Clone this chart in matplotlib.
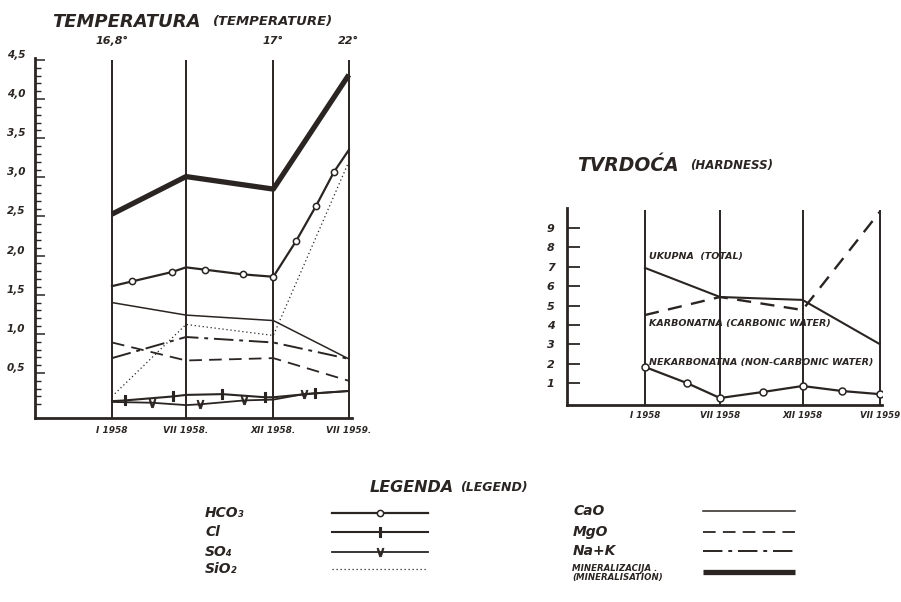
import matplotlib
matplotlib.use('Agg')
import matplotlib.pyplot as plt
import matplotlib.transforms as mtransforms

plt.rcParams['font.family'] = ['DejaVu Sans']

# ---- data: temperature / chemistry chart ----
months = ['I 1958', 'VII 1958.', 'XII 1958.', 'VII 1959.']
month_x = [0.0, 1.0, 2.18, 3.2]
temps = ['16,8°', '', '17°', '22°']
y_ticks = [0.5, 1.0, 1.5, 2.0, 2.5, 3.0, 3.5, 4.0, 4.5]
y_ticklabels = ['0,5', '1,0', '1,5', '2,0', '2,5', '3,0', '3,5', '4,0', '4,5']

mineral = [2.53, 3.01, 2.85, 4.31]
ca_o = [1.40, 1.24, 1.17, 0.68]
mg_o = [0.89, 0.66, 0.69, 0.40]
na_k = [0.69, 0.96, 0.89, 0.68]
si_o2 = [0.20, 1.12, 0.98, 3.20]

hco3_x = [0.0, 0.27, 0.81, 1.0, 1.26, 1.77, 2.18, 2.49, 2.76, 3.0, 3.2]
hco3 = [1.61, 1.67, 1.79, 1.85, 1.82, 1.76, 1.73, 2.19, 2.64, 3.07, 3.35]

cl_x = [0.0, 0.18, 0.82, 1.0, 1.49, 2.07, 2.18, 2.74, 3.2]
cl = [0.14, 0.15, 0.20, 0.22, 0.23, 0.19, 0.19, 0.24, 0.27]

so4_x = [0.0, 0.54, 1.0, 1.19, 1.79, 2.18, 2.59, 3.2]
so4 = [0.13, 0.12, 0.09, 0.10, 0.15, 0.16, 0.23, 0.27]

# ---- data: hardness chart ----
hard_months = ['I 1958', 'VII 1958', 'XII 1958', 'VII 1959']
hard_x = [0.0, 1.0, 2.1, 3.13]
hard_ticks = [1, 2, 3, 4, 5, 6, 7, 8, 9]
total = [6.94, 5.44, 5.29, 3.01]
carbonic = [4.51, 5.44, 4.77, 9.83]
noncarb_x = [0.0, 0.56, 1.0, 1.57, 2.1, 2.63, 3.13]
noncarb = [1.83, 1.0, 0.23, 0.54, 0.85, 0.59, 0.43]

ink = '#2a2522'
W, H = 901, 602

styles = {
    'HCO₃': dict(lw=1.6, marker='o', ms=4.5, mfc='white', mec=ink, mew=1.1),
    'Cl': dict(lw=1.5, marker='$\u2016$', ms=7, mec=ink, mew=0.8),
    'SO₄': dict(lw=1.3, marker='$\\vee$', ms=6, mec=ink, mew=0.6),
    'SiO₂': dict(lw=0.9, ls=(0, (1, 2.2))),
    'CaO': dict(lw=1.1),
    'MgO': dict(lw=1.3, ls=(0, (7, 4))),
    'Na+K': dict(lw=1.4, ls=(0, (10, 3, 2, 3))),
    'MIN': dict(lw=3.8, solid_capstyle='butt'),
}


def fax(x0, y0, x1, y1):
    # pixel box (top-left origin) -> figure fraction
    return [x0 / W, 1 - y1 / H, (x1 - x0) / W, (y1 - y0) / H]


def bi(**kw):
    d = dict(fontweight='bold', fontstyle='italic', color=ink)
    d.update(kw)
    return d


fig = plt.figure(figsize=(W / 100, H / 100), dpi=100)
fig.patch.set_facecolor('white')

# ================= left chart =================
ax = fig.add_axes(fax(35, 58, 352, 418))
ax.set_xlim(-1.04, 3.243)
ax.set_ylim(-0.075, 4.525)
for s in ['top', 'right']:
    ax.spines[s].set_visible(False)
for s in ['left', 'bottom']:
    ax.spines[s].set_linewidth(2.0)
    ax.spines[s].set_color(ink)
ax.set_facecolor('none')

ax.vlines(month_x, -0.075, 4.5, color=ink, lw=1.4)

ax.plot(month_x, mineral, color=ink, **styles['MIN'])
ax.plot(hco3_x, hco3, color=ink, markevery=[1, 2, 4, 5, 6, 7, 8, 9], **styles['HCO₃'])
ax.plot(month_x, ca_o, color=ink, **styles['CaO'])
ax.plot(month_x, mg_o, color=ink, **styles['MgO'])
ax.plot(month_x, na_k, color=ink, **styles['Na+K'])
ax.plot(month_x, si_o2, color=ink, **styles['SiO₂'])
ax.plot(cl_x, cl, color=ink, markevery=[1, 2, 4, 5, 7], **styles['Cl'])
ax.plot(so4_x, so4, color=ink, markevery=[1, 3, 4, 6], **styles['SO₄'])

ax.set_yticks(y_ticks)
ax.set_yticklabels(y_ticklabels)
ax.set_yticks([i / 10 for i in range(1, 46)], minor=True)
ax.tick_params(axis='y', which='major', direction='in', length=7, width=1.1,
               color=ink, pad=7, labelsize=7.5, labelcolor=ink)
ax.tick_params(axis='y', which='minor', direction='in', length=4, width=1.0, color=ink)
off = mtransforms.ScaledTranslation(0, 6 / 100, fig.dpi_scale_trans)
for lab in ax.get_yticklabels():
    lab.set_fontweight('bold')
    lab.set_fontstyle('italic')
    lab.set_transform(lab.get_transform() + off)

ax.set_xticks(month_x)
ax.set_xticklabels(months)
ax.tick_params(axis='x', length=0, pad=6, labelsize=6.5, labelcolor=ink)
for lab in ax.get_xticklabels():
    lab.set_fontweight('bold')
    lab.set_fontstyle('italic')

for xv, t in zip(month_x, temps):
    if t:
        ax.annotate(t, (xv, 1.0), xycoords=('data', 'axes fraction'),
                    xytext=(0, 9), textcoords='offset points',
                    ha='center', va='bottom', fontsize=8, **bi())

fig.text(52 / W, 1 - 22 / H, 'TEMPERATURA', fontsize=13, va='center', ha='left', **bi())
fig.text(213 / W, 1 - 22 / H, '(TEMPERATURE)', fontsize=9.5, va='center', ha='left', **bi())

# ================= right chart =================
bx = fig.add_axes(fax(567, 208, 882, 405))
bx.set_xlim(-1.04, 3.16)
bx.set_ylim(-0.13, 10.03)
for s in ['top', 'right']:
    bx.spines[s].set_visible(False)
for s in ['left', 'bottom']:
    bx.spines[s].set_linewidth(2.0)
    bx.spines[s].set_color(ink)
bx.set_facecolor('none')

bx.vlines(hard_x, -0.13, 9.95, color=ink, lw=1.4)
bx.plot(hard_x, total, color=ink, lw=1.5)
bx.plot(hard_x, carbonic, color=ink, lw=1.7, ls=(0, (6, 4)))
bx.plot(noncarb_x, noncarb, color=ink, lw=1.6, marker='o', ms=5,
        mfc='white', mec=ink, mew=1.1)

bx.set_yticks(hard_ticks)
bx.tick_params(axis='y', direction='in', length=9, width=1.3, color=ink,
               pad=9, labelsize=8, labelcolor=ink)
for lab in bx.get_yticklabels():
    lab.set_fontweight('bold')
    lab.set_fontstyle('italic')
bx.set_xticks(hard_x)
bx.set_xticklabels(hard_months)
bx.tick_params(axis='x', length=0, pad=4, labelsize=6.2, labelcolor=ink)
for lab in bx.get_xticklabels():
    lab.set_fontweight('bold')
    lab.set_fontstyle('italic')

bx.annotate('UKUPNA  (TOTAL)', (hard_x[0], total[0]), xytext=(3, 8),
            textcoords='offset points', fontsize=6.8, ha='left', va='center', **bi())
bx.annotate('KARBONATNA (CARBONIC WATER)', (hard_x[0], carbonic[0]), xytext=(3, -6),
            textcoords='offset points', fontsize=6.8, ha='left', va='center', **bi())
bx.annotate('NEKARBONATNA (NON-CARBONIC WATER)', (hard_x[0], noncarb[0]), xytext=(3, 3),
            textcoords='offset points', fontsize=6.8, ha='left', va='center', **bi())

fig.text(577 / W, 1 - 165 / H, 'TVRDOĆA', fontsize=13.5, va='center', ha='left', **bi())
fig.text(690 / W, 1 - 165 / H, '(HARDNESS)', fontsize=8.5, va='center', ha='left', **bi())

# ================= legend =================
lax = fig.add_axes([0, 0, 1, 1])
lax.set_xlim(0, W)
lax.set_ylim(H, 0)
lax.axis('off')

lax.text(370, 487, 'LEGENDA', fontsize=11.5, va='center', ha='left', **bi())
lax.text(460, 488, '(LEGEND)', fontsize=9, va='center', ha='left', **bi())

left_items = ['HCO₃', 'Cl', 'SO₄', 'SiO₂']
left_rows = [513, 532, 552, 569]
for name, yy in zip(left_items, left_rows):
    lax.text(205, yy, name, fontsize=10, va='center', ha='left', **bi())
    st = dict(styles[name])
    if 'marker' in st:
        lax.plot([332, 380, 428], [yy, yy, yy], color=ink, markevery=[1], **st)
    else:
        lax.plot([332, 428], [yy, yy], color=ink, **st)

right_items = ['CaO', 'MgO', 'Na+K']
right_rows = [511, 532, 551]
for name, yy in zip(right_items, right_rows):
    lax.text(573, yy, name, fontsize=10, va='center', ha='left', **bi())
    lax.plot([703, 795], [yy, yy], color=ink, **styles[name])
lax.text(572, 573, 'MINERALIZACIJA .\n(MINERALISATION)', fontsize=6.2,
         va='center', ha='left', linespacing=1.0, **bi())
lax.plot([703, 795], [572, 572], color=ink, **styles['MIN'])

fig.savefig('out.png', dpi=100, facecolor='white')
